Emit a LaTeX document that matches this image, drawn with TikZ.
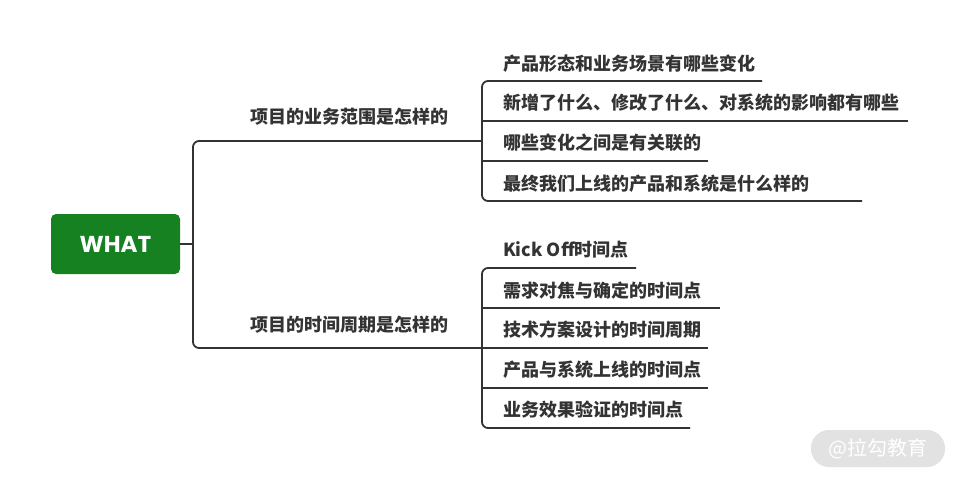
\documentclass[tikz,border=0pt]{standalone}
\usepackage{fontspec}
\newfontfamily\cjk{Noto Sans CJK SC}
\newfontfamily\pop{Poppins}
\definecolor{rootgreen}{HTML}{168120}
\definecolor{txt}{HTML}{333333}
\definecolor{wm}{HTML}{E2E2E2}
\begin{document}
\begin{tikzpicture}[x=1pt,y=-1pt,
  lbl/.style={anchor=west,inner sep=0pt,text=txt,font=\cjk\bfseries\fontsize{18}{20}\selectfont},
  wire/.style={draw=txt,line width=1.8pt,rounded corners=6pt},
  tee/.style={draw=txt,line width=1.8pt}]
\useasboundingbox (0,0) rectangle (958,479);
% root
\node[fill=rootgreen,rounded corners=5pt,minimum width=129pt,minimum height=60pt,inner sep=0pt,
  text=white,font=\pop\bfseries\fontsize{23}{26}\selectfont] (root) at (115.5,244) {WHAT};
% coordinates
\coordinate (j0) at (193,244);
\coordinate (b1) at (482,141);
\coordinate (b2) at (482,348);
% first level labels
\node[lbl] (p1) at (250,117) {项目的业务范围是怎样的};
\node[lbl] (p2) at (250,325) {项目的时间周期是怎样的};
% main bracket
\draw[tee] (root.east) -- (j0);
\draw[wire] (b1) -- (193,141) -- (193,348) -- (b2);
% group 1 children
\node[lbl] (a1) at (503,64) {产品形态和业务场景有哪些变化};
\node[lbl] (a2) at (503,103) {新增了什么、修改了什么、对系统的影响都有哪些};
\node[lbl] (a3) at (503,143) {哪些变化之间是有关联的};
\node[lbl] (a4) at (503,184) {最终我们上线的产品和系统是什么样的};
\coordinate (ae1) at (762,81);
\coordinate (ae2) at (908,121);
\coordinate (ae3) at (708,161);
\coordinate (ae4) at (862,201);
\draw[wire] (ae1) -- (482,81) -- (482,201) -- (ae4);
\draw[tee] (482,121) -- (ae2);
\draw[tee] (482,161) -- (ae3);
% group 2 children
\node[lbl] (c1) at (503,250) {Kick Off时间点};
\node[lbl] (c2) at (503,291) {需求对焦与确定的时间点};
\node[lbl] (c3) at (503,330) {技术方案设计的时间周期};
\node[lbl] (c4) at (503,370) {产品与系统上线的时间点};
\node[lbl] (c5) at (503,410) {业务效果验证的时间点};
\coordinate (ce1) at (636,268);
\coordinate (ce2) at (720,308);
\coordinate (ce3) at (708,348);
\coordinate (ce4) at (708,388);
\coordinate (ce5) at (690,428);
\draw[wire] (ce1) -- (482,268) -- (482,428) -- (ce5);
\draw[tee] (482,308) -- (ce2);
\draw[tee] (b2) -- (ce3);
\draw[tee] (482,388) -- (ce4);
% watermark
\node[fill=wm,rounded corners=18pt,minimum width=134pt,minimum height=37pt,inner sep=0pt,
  text=white,font=\cjk\fontsize{20}{22}\selectfont] (wmk) at (878,448.5) {@拉勾教育};
\end{tikzpicture}
\end{document}
